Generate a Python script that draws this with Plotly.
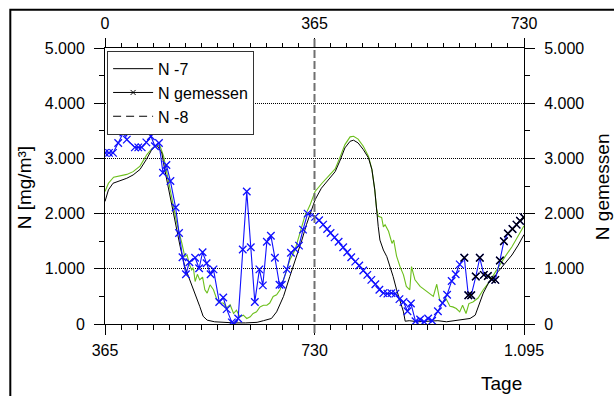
import plotly.graph_objects as go

# Simulated nitrogen concentration N -7 (black), days 365..1095
n7_days = [365, 371, 379, 391, 403, 414, 426, 437, 446, 452, 456, 461, 464, 469, 478, 487, 496, 504,
           513, 522, 530, 536, 543, 556, 570, 590, 610, 630, 641, 655, 664, 676, 687, 699, 708, 716,
           725, 731, 742, 754, 766, 774, 783, 792, 798, 806, 815, 824, 830, 835, 838, 841, 844, 850,
           856, 862, 867, 873, 879, 885, 888, 895, 910, 930, 945, 960, 980, 1001, 1010, 1015, 1024,
           1033, 1042, 1050, 1062, 1074, 1085, 1095]
n7_vals = [2220, 2430, 2550, 2590, 2640, 2700, 2800, 2980, 3150, 3220, 3230, 3150, 3100, 2800, 2310,
           1890, 1400, 1040, 800, 560, 320, 140, 70, 40, 30, 20, 20, 30, 60, 100, 220, 500, 860, 1220,
           1520, 1800, 2070, 2250, 2460, 2610, 2760, 2950, 3190, 3310, 3330, 3280, 3160, 3010, 2800,
           2430, 2070, 1770, 1520, 1340, 1220, 1040, 860, 620, 440, 220, 50, 60, 40, 50, 60, 40, 70,
           100, 160, 310, 560, 740, 830, 950, 1100, 1250, 1430, 1620]

# Simulated series (green)
green_days = [365, 371, 380, 391, 403, 414, 426, 438, 446, 455, 461, 467, 473, 481, 490, 499, 504, 508,
              512, 516, 519, 522, 526, 530, 535, 539, 543, 548, 554, 560, 565, 571, 577, 583, 589, 594,
              600, 606, 612, 618, 623, 629, 635, 641, 647, 652, 658, 664, 670, 676, 682, 687, 696, 705,
              713, 722, 731, 743, 754, 766, 774, 783, 792, 798, 806, 815, 824, 830, 835, 838, 841, 847,
              850, 853, 859, 865, 868, 873, 879, 885, 890, 896, 899, 905, 914, 922, 931, 937, 943, 948,
              953, 959, 966, 971, 977, 983, 988, 994, 999, 1006, 1015, 1024, 1033, 1042, 1050, 1062,
              1074, 1085, 1095]
green_vals = [2400, 2550, 2660, 2680, 2710, 2760, 2860, 3070, 3170, 3250, 3220, 3040, 2730, 2250, 1830,
              1460, 1220, 1250, 1080, 980, 1020, 770, 900, 800, 850, 620, 560, 710, 620, 440, 380, 380,
              290, 350, 190, 250, 130, 160, 100, 130, 190, 220, 310, 340, 340, 380, 500, 530, 620, 800,
              980, 1160, 1340, 1650, 1950, 2150, 2400, 2550, 2670, 2810, 3010, 3250, 3390, 3400, 3350,
              3220, 3040, 2800, 2430, 2100, 1950, 1930, 1760, 1800, 1680, 1460, 1520, 1230, 1040, 890,
              680, 620, 1040, 800, 680, 620, 560, 500, 720, 440, 380, 460, 320, 310, 280, 220, 340, 190,
              370, 400, 470, 620, 740, 890, 1040, 1220, 1400, 1610, 1780]

# Measured nitrogen (N gemessen), blue with cross markers
meas_days = [365, 372, 379, 388, 397, 403, 417, 423, 429, 437, 445, 452, 459, 466, 472, 479, 488, 494,
             500, 506, 512, 522, 529, 535, 542, 549, 554, 564, 571, 577, 586, 590, 597, 605, 612, 619,
             626, 634, 640, 647, 654, 661, 669, 673, 682, 689, 696, 703, 710, 718, 731, 738, 745, 752,
             758, 765, 772, 780, 787, 794, 801, 808, 815, 822, 829, 836, 843, 850, 857, 864, 871, 878,
             885, 892, 898, 906, 914, 921, 928, 935, 945, 953, 961, 969, 976, 983, 991, 998, 1003, 1011,
             1018, 1025, 1032, 1039, 1045, 1053, 1060, 1067, 1075, 1082, 1088, 1095]
meas_vals = [3100, 3100, 3100, 3280, 3470, 3340, 3200, 3200, 3200, 3290, 3400, 3220, 3280, 2740, 2880,
             2590, 2110, 1650, 1210, 900, 1120, 1200, 1010, 1300, 1100, 900, 990, 400, 480, 270, 30, 0,
             100, 1350, 2400, 1390, 400, 990, 700, 1490, 1600, 1200, 710, 710, 990, 1290, 1360, 1420,
             1710, 2000, 1940, 1880, 1800, 1720, 1650, 1570, 1490, 1390, 1300, 1210, 1130, 1060, 970,
             890, 800, 720, 620, 560, 550, 560, 550, 450, 400, 230, 370, 50, 80, 40, 100, 60, 230, 380,
             530, 780, 900, 1080, 1200, 520, 520, 860, 1200, 890, 870, 810, 800, 1150, 1500, 1640, 1720,
             1800, 1870, 1930]

# Late-season samples shown with black markers
late_from = 991

# Year boundary marker (day)
year_mark = [730]

bottom_ticks = [365, 730, 1095]
bottom_labels = ["365", "730", "1.095"]
top_ticks = [0, 365, 730]
top_labels = ["0", "365", "730"]
y_ticks = [0, 1000, 2000, 3000, 4000, 5000]
y_labels = ["0", "1.000", "2.000", "3.000", "4.000", "5.000"]

FONT = "Arial, Liberation Sans, sans-serif"
BLUE = "#1010ff"
GREEN = "#6cbf1c"

late_days = [d for d in meas_days if d >= late_from]
late_vals = [v for d, v in zip(meas_days, meas_vals) if d >= late_from]

fig = go.Figure()

fig.add_trace(go.Scatter(x=green_days, y=green_vals, mode="lines", line=dict(color=GREEN, width=1.1),
                         showlegend=False, hoverinfo="skip"))
fig.add_trace(go.Scatter(x=n7_days, y=n7_vals, mode="lines", name="N -7",
                         line=dict(color="black", width=1), legendrank=1))
fig.add_trace(go.Scatter(x=meas_days, y=meas_vals, mode="lines+markers", yaxis="y2",
                         line=dict(color=BLUE, width=1.1),
                         marker=dict(symbol="x-thin", size=7.5, line=dict(color=BLUE, width=1.3)),
                         showlegend=False))
fig.add_trace(go.Scatter(x=late_days, y=late_vals, mode="markers", yaxis="y2", name="N gemessen",
                         marker=dict(symbol="x-thin", size=7.5, line=dict(color="black", width=1.3)),
                         showlegend=False))
# legend entries drawn in black
fig.add_trace(go.Scatter(x=[None], y=[None], mode="lines+markers", name="N gemessen",
                         line=dict(color="black", width=1),
                         marker=dict(symbol="x-thin", size=5, line=dict(color="black", width=1)),
                         legendrank=2))
fig.add_trace(go.Scatter(x=[None], y=[None], mode="lines", name="N -8", xaxis="x2", yaxis="y2",
                         line=dict(color="black", width=1, dash="8px,5px"), legendrank=3))

# dashed year boundary
for xv in year_mark:
    fig.add_shape(type="line", xref="x", yref="paper", x0=xv, x1=xv, y0=-0.033, y1=1.033,
                  line=dict(color="#707070", width=2, dash="8px,3px"), layer="above")

# outer frame
fig.add_shape(type="rect", xref="paper", yref="paper", x0=-0.226, x1=1.5, y0=-0.5, y1=1.139,
              line=dict(color="black", width=2), layer="below")

tickfont = dict(family=FONT, size=16, color="black")
common = dict(showline=True, linecolor="black", linewidth=1, ticks="outside", tickcolor="black",
              tickwidth=1, tickfont=tickfont, zeroline=False, showgrid=False)

fig.update_layout(
    width=614, height=396,
    margin=dict(l=105, r=90, t=48, b=72),
    paper_bgcolor="white", plot_bgcolor="white",
    font=dict(family=FONT, color="black"),
    xaxis=dict(range=[365, 1095], tickvals=bottom_ticks, ticktext=bottom_labels, ticklen=10,
               ticklabelstandoff=2,
               minor=dict(dtick=365 / 13, tick0=365, ticklen=5, ticks="outside", tickcolor="black"),
               **common),
    xaxis2=dict(range=[0, 730], overlaying="x", side="top", anchor="y", tickvals=top_ticks,
                ticktext=top_labels, ticklen=9, ticklabelstandoff=3,
                minor=dict(dtick=365 / 13, tick0=0, ticklen=4, ticks="outside", tickcolor="black"),
                **common),
    yaxis=dict(range=[0, 5000], tickvals=y_ticks, ticktext=y_labels, ticklen=10,
               ticklabelstandoff=6,
               minor=dict(dtick=500, ticklen=5, ticks="outside", tickcolor="black"),
               **{**common, "showgrid": True}, gridcolor="black", gridwidth=1, griddash="1px,1px"),
    yaxis2=dict(range=[0, 5000], overlaying="y", side="right", anchor="x", tickvals=y_ticks,
                ticktext=y_labels, ticklen=10, ticklabelstandoff=6,
                minor=dict(dtick=500, ticklen=5, ticks="outside", tickcolor="black"),
                **common),
    legend=dict(x=0.005, y=0.99, xanchor="left", yanchor="top", bgcolor="white",
                bordercolor="#333", borderwidth=1, font=dict(family=FONT, size=16, color="black"),
                traceorder="normal", itemwidth=40),
    annotations=[
        dict(text="N [mg/m³]", xref="paper", yref="paper", x=-0.19, y=0.493, textangle=-90,
             xanchor="center", yanchor="middle", showarrow=False, font=dict(family=FONT, size=19)),
        dict(text="N gemessen", xref="paper", yref="paper", x=1.187, y=0.497, textangle=-90,
             xanchor="center", yanchor="middle", showarrow=False, font=dict(family=FONT, size=19)),
        dict(text="Tage", xref="paper", yref="paper", x=1.0, y=-0.215, xanchor="right",
             yanchor="middle", showarrow=False, font=dict(family=FONT, size=19)),
    ],
)

fig.write_html("out.html")
